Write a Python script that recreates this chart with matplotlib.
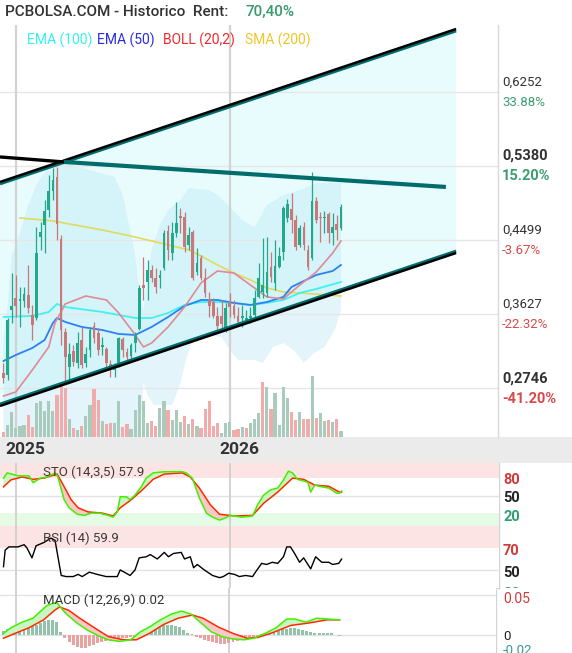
import numpy as np
import matplotlib
matplotlib.use('Agg')
import matplotlib.pyplot as plt
from matplotlib.patches import Polygon, Rectangle
from matplotlib.lines import Line2D
from matplotlib.transforms import Bbox, TransformedBbox

plt.rcParams['font.family'] = ['Roboto', 'DejaVu Sans']

# ---------------- data (weekly candles, index = week number) ----------------
opens = [0.2927,0.2904,0.3673,0.3815,0.3779,0.3779,0.3850,0.3614,0.3578,0.4536,
         0.4678,0.4856,0.5080,0.5246,0.4513,0.3412,0.2998,0.3188,0.3046,0.3318,
         0.3046,0.3200,0.3483,0.3401,0.3235,0.3211,0.3034,0.2963,0.3046,0.3330,
         0.3176,0.3129,0.3282,0.3448,0.3968,0.4004,0.4146,0.4051,0.4051,0.4170,
         0.4607,0.4347,0.4584,0.4785,0.4773,0.4442,0.4595,0.4122,0.4288,0.4051,
         0.3803,0.3767,0.3602,0.3602,0.3436,0.3767,0.3720,0.3602,0.3578,0.3554,
         0.3578,0.3614,0.3827,0.3886,0.3874,0.4181,0.3992,0.4181,0.4359,0.4761,
         0.4868,0.4737,0.4442,0.4655,0.4383,0.4288,0.4962,0.4773,0.4761,0.4808,
         0.4584,0.4690,0.4643]
highs = [0.3046,0.3578,0.4110,0.4087,0.3945,0.3945,0.4205,0.3732,0.4655,0.4714,
         0.4974,0.5270,0.5353,0.5364,0.4560,0.3460,0.3282,0.3259,0.3412,0.3472,
         0.3235,0.3472,0.3531,0.3460,0.3353,0.3235,0.3081,0.3046,0.3353,0.3353,
         0.3223,0.3282,0.3412,0.3968,0.4300,0.4264,0.4205,0.4170,0.4146,0.4619,
         0.4678,0.4714,0.4950,0.4879,0.4832,0.4655,0.4619,0.4406,0.4323,0.4170,
         0.3886,0.3815,0.3708,0.3791,0.3756,0.3874,0.3791,0.3708,0.3732,0.3673,
         0.3708,0.3909,0.4229,0.4524,0.4536,0.4359,0.4501,0.4418,0.4903,0.4986,
         0.5057,0.4797,0.4678,0.4714,0.4442,0.5305,0.5009,0.4832,0.4844,0.4832,
         0.4820,0.4797,0.4927]
lows = [0.2809,0.2845,0.3519,0.3590,0.3472,0.3708,0.3637,0.3318,0.3554,0.4383,
        0.4347,0.4773,0.4974,0.4501,0.3259,0.2809,0.2845,0.3010,0.2987,0.2987,
        0.2998,0.3117,0.3282,0.3140,0.3140,0.2998,0.2880,0.2880,0.2998,0.3117,
        0.3081,0.3105,0.3176,0.3436,0.3791,0.3791,0.4004,0.3874,0.3933,0.4146,
        0.4264,0.4264,0.4536,0.4584,0.4359,0.4383,0.4028,0.4087,0.4028,0.3827,
        0.3590,0.3578,0.3412,0.3460,0.3412,0.3590,0.3578,0.3519,0.3472,0.3531,
        0.3519,0.3590,0.3815,0.3815,0.3827,0.4004,0.3909,0.4170,0.4264,0.4714,
        0.4584,0.4383,0.4418,0.4383,0.4146,0.4264,0.4702,0.4477,0.4584,0.4465,
        0.4442,0.4501,0.4619]
closes = [0.2868,0.3554,0.3720,0.3720,0.3803,0.3862,0.3696,0.3495,0.4347,0.4595,
          0.4844,0.5080,0.5211,0.4690,0.3436,0.3117,0.3152,0.3058,0.3282,0.3022,
          0.3152,0.3436,0.3341,0.3200,0.3259,0.3046,0.2998,0.2998,0.3341,0.3200,
          0.3117,0.3259,0.3377,0.3933,0.3933,0.4146,0.4051,0.3945,0.4087,0.4584,
          0.4383,0.4584,0.4702,0.4761,0.4418,0.4560,0.4051,0.4229,0.4051,0.3874,
          0.3720,0.3602,0.3483,0.3507,0.3696,0.3708,0.3614,0.3531,0.3602,0.3578,
          0.3602,0.3815,0.4051,0.3968,0.4122,0.4063,0.4193,0.4312,0.4879,0.4927,
          0.4737,0.4418,0.4643,0.4442,0.4181,0.4962,0.4737,0.4761,0.4773,0.4584,
          0.4655,0.4619,0.4891]
volume_k = [5,12,25,9,11,12,22,10,34,36,
            26,36,26,42,54,49,18,9,7,11,
            21,32,48,37,16,13,14,14,36,10,
            13,8,27,42,36,14,16,11,29,36,
            27,17,27,15,21,13,18,11,9,28,
            36,11,14,4,14,15,7,8,10,9,
            14,18,24,55,50,28,44,12,50,39,
            25,17,25,18,18,61,19,24,16,17,
            15,18,6]

# moving averages (week index, price)
sma200_x = [4, 12, 24, 32, 40, 45, 48, 52, 56, 60, 64, 68, 72, 82]
sma200_y = [0.4761, 0.4726, 0.4619, 0.4536, 0.4442, 0.4383, 0.4312, 0.4205, 0.4110,
            0.4028, 0.3933, 0.3886, 0.3874, 0.3838]
ema100_x = [0, 7, 11, 13, 15, 24, 32, 36, 40, 44, 48, 52, 56, 60, 64, 68, 72, 76, 82]
ema100_y = [0.3590, 0.3602, 0.3649, 0.3744, 0.3708, 0.3649, 0.3578, 0.3578, 0.3637, 0.3732,
            0.3767, 0.3767, 0.3756, 0.3732, 0.3756, 0.3791, 0.3874, 0.3921, 0.4004]
ema50_x = [0, 3, 7, 10, 12, 13, 15, 19, 24, 28, 32, 36, 40, 44, 48, 52, 56, 60, 64, 68, 70, 76, 80, 82]
ema50_y = [0.3069, 0.3140, 0.3223, 0.3318, 0.3519, 0.3578, 0.3531, 0.3472, 0.3436, 0.3389,
           0.3377, 0.3472, 0.3590, 0.3720, 0.3791, 0.3791, 0.3756, 0.3732, 0.3767, 0.3827,
           0.3945, 0.4087, 0.4134, 0.4205]
boll_x = [0, 3, 7, 11, 12.5, 14, 15, 20, 25, 28, 31.5, 34, 36, 40, 44, 48, 52, 56, 60, 64, 68, 72, 76, 80, 82]
boll_y = [0.2655, 0.2703, 0.2963, 0.3235, 0.3519, 0.3649, 0.3744, 0.3838, 0.3791, 0.3637,
          0.3412, 0.3235, 0.3282, 0.3472, 0.3708, 0.3992, 0.4134, 0.4110, 0.3968, 0.3827,
          0.3803, 0.3968, 0.4122, 0.4347, 0.4489]
boll_up_x = [0, 1, 2, 4, 6, 8, 10, 15, 21, 27, 29, 30.5, 32, 33.2, 34, 35, 36, 38, 40, 43,
             45, 50, 52, 55, 58, 61, 64, 68, 72, 76, 82]
boll_up_y = [0.3318, 0.3732, 0.4323, 0.4584, 0.4915, 0.5151, 0.5305, 0.5412, 0.5329, 0.5246,
             0.5033, 0.4678, 0.4323, 0.3791, 0.3673, 0.4028, 0.4383, 0.4678, 0.4856, 0.4974,
             0.5116, 0.5092, 0.5033, 0.4891, 0.4737, 0.4655, 0.4915, 0.5033, 0.5092, 0.5175, 0.5175]
boll_lo_x = [0, 33, 34, 35, 36.5, 41, 43, 44.5, 46, 50, 53, 55, 57, 61, 63, 65.5, 68, 70.5,
             73, 75.5, 78, 80.5, 82]
boll_lo_y = [0.2000, 0.2000, 0.2809, 0.2667, 0.2549, 0.2549, 0.2809, 0.3117, 0.3318, 0.3377,
             0.3353, 0.3200, 0.3081, 0.3081, 0.3046, 0.3235, 0.3282, 0.3200, 0.3046, 0.3164,
             0.3235, 0.3436, 0.3673]

# trend channel (week index, price)
chan_up_x, chan_up_y = [-0.85, 110.0], [0.5175, 0.6985]
chan_lo_x, chan_lo_y = [-0.85, 110.0], [0.2549, 0.4359]
res_x, res_y = [14.7, 107.5], [0.5424, 0.5128]
old_x, old_y = [-0.85, 14.7], [0.5483, 0.5424]

levels = [0.6252, 0.5380, 0.4499, 0.3627, 0.2746]
level_pct = ['33.88%', '15.20%', '-3.67%', '-22.32%', '-41.20%']
level_bold = [False, True, False, False, True]
year_labels = ['2025', '2026']
year_pos = [3.04, 55.04]

# oscillators
sto_k_x = [0, 0.9, 3.5, 6.2, 7.2, 8.9, 10.6, 12.5, 13.2, 14.7, 15.9, 17.9, 19.6, 21.3, 23.2,
           25.4, 26.6, 27.6, 28.3, 29.8, 30.7, 31.9, 33.4, 34.6, 36.3, 39.0, 41.7, 43.4, 44.3,
           45.8, 47.5, 49.2, 50.7, 52.4, 53.6, 55.0, 57.7, 60.4, 61.6, 63.1, 64.8, 66.5, 67.9,
           69.1, 70.1, 71.3, 73.8, 74.5, 75.5, 77.2, 78.9, 80.8, 81.5, 82.0]
sto_k_y = [80, 89, 84, 84, 72, 80, 82, 89, 82, 43, 29, 18, 16, 20, 20, 16, 13, 22, 48, 48, 43,
           51, 65, 80, 89, 91, 91, 91, 89, 80, 46, 20, 13, 8, 11, 16, 13, 15, 34, 51, 60, 63,
           77, 92, 89, 78, 73, 56, 68, 65, 63, 54, 54, 58]
sto_d_x = [0, 1.8, 4.5, 7.2, 9.8, 13.0, 14.2, 16.4, 18.1, 20.5, 23.9, 26.6, 28.3, 31.0, 33.7,
           36.3, 39.0, 43.4, 45.3, 47.5, 50.2, 52.4, 56.0, 60.4, 63.1, 66.5, 70.1, 72.8, 75.5,
           78.9, 81.5, 82.0]
sto_d_y = [65, 77, 82, 78, 80, 87, 72, 43, 29, 22, 20, 15, 29, 43, 60, 78, 87, 89, 82, 63, 34,
           18, 15, 16, 37, 56, 80, 78, 68, 66, 56, 56]
rsi_x = [0, 0.4, 1.3, 3.5, 5.0, 5.7, 6.9, 7.9, 9.8, 11.5, 12.5, 13.2, 14.0, 15.2, 16.9, 18.1,
         19.1, 20.8, 22.7, 24.9, 27.6, 28.3, 29.3, 30.7, 31.9, 32.9, 34.6, 35.6, 37.3, 39.0,
         40.0, 41.2, 43.1, 43.9, 45.3, 46.1, 47.0, 48.7, 50.7, 52.4, 53.3, 54.6, 56.0, 57.2,
         58.7, 60.4, 61.1, 62.6, 63.8, 65.2, 66.5, 67.9, 68.7, 69.6, 70.6, 71.8, 72.8, 74.5,
         75.7, 77.2, 78.9, 79.8, 81.3, 82.0]
rsi_y = [53, 68, 71, 71, 73, 70, 61, 72, 75, 79, 77, 62, 45, 44, 44, 46, 44, 48, 46, 44, 44,
         50, 48, 45, 50, 61, 62, 64, 60, 66, 62, 65, 66, 60, 62, 52, 55, 50, 45, 43, 44, 47,
         46, 44, 45, 44, 48, 56, 55, 57, 56, 62, 71, 71, 65, 57, 61, 51, 62, 57, 57, 55, 56, 59.9]
macd_x = [0, 1.8, 4.5, 7.2, 8.9, 10.6, 13.0, 13.7, 15.2, 17.9, 20.5, 23.2, 25.6, 28.3, 31.0,
          33.4, 35.6, 38.3, 40.9, 43.4, 45.8, 48.0, 50.7, 53.3, 56.0, 58.7, 61.1, 63.8, 66.5,
          69.1, 71.1, 73.8, 76.4, 78.9, 82.0]
macd_y = [0.002, 0.009, 0.016, 0.021, 0.029, 0.037, 0.041, 0.036, 0.027, 0.015, 0.006, -0.001,
          -0.006, -0.008, -0.006, 0.004, 0.010, 0.019, 0.026, 0.030, 0.026, 0.016, 0.004, -0.002,
          -0.005, -0.006, -0.004, 0.002, 0.009, 0.020, 0.020, 0.016, 0.021, 0.020, 0.019]
signal_x = [0, 2.8, 6.2, 9.8, 12.5, 13.7, 15.9, 18.6, 22.2, 25.6, 29.3, 32.4, 35.6, 39.0, 42.6,
            46.1, 48.7, 52.4, 56.0, 59.4, 62.1, 65.7, 70.1, 74.5, 78.9, 82.0]
signal_y = [-0.004, 0.002, 0.009, 0.019, 0.031, 0.035, 0.031, 0.021, 0.009, -0.002, -0.006,
            -0.006, 0.002, 0.013, 0.021, 0.025, 0.021, 0.010, 0.002, -0.004, -0.003, 0.003,
            0.012, 0.015, 0.019, 0.019]
macd_hist = [0.005,0.007,0.009,0.011,0.012,0.013,0.012,0.011,0.013,0.015,
             0.017,0.019,0.019,0.016,0.004,-0.004,-0.009,-0.013,-0.015,-0.016,
             -0.016,-0.014,-0.012,-0.010,-0.009,-0.008,-0.007,-0.006,-0.005,-0.004,
             -0.004,-0.003,-0.002,0.003,0.005,0.007,0.009,0.010,0.012,0.013,
             0.012,0.012,0.011,0.010,0.006,0.003,0.001,-0.002,-0.004,-0.006,
             -0.008,-0.009,-0.010,-0.011,-0.011,-0.010,-0.009,-0.008,-0.006,-0.005,
             -0.003,-0.002,-0.001,0.001,0.002,0.003,0.004,0.005,0.007,0.008,
             0.009,0.009,0.008,0.006,0.005,0.004,0.003,0.003,0.003,0.003,
             0.002,0.000,-0.001]

# ---------------- figure ----------------
W, H = 572, 653
fig = plt.figure(figsize=(W / 100, H / 100), dpi=100)
fig.patch.set_facecolor('white')
XL = (-0.85, 120.17)


def add_ax(x0, y0, x1, y1, z=1):
    a = fig.add_axes([x0 / W, 1 - y1 / H, (x1 - x0) / W, (y1 - y0) / H])
    a.set_zorder(z)
    a.set_xlim(*XL)
    for s in a.spines.values():
        s.set_visible(False)
    a.set_xticks([])
    a.set_yticks([])
    return a


GREEN, RED = '#22a88a', '#c87878'
PYL = (0.2170, 0.7044)

# bottom layer: fills and grid
ax_fill = add_ax(0, 25, 498, 437, z=1)
ax_fill.set_ylim(*PYL)
bx = list(boll_up_x) + list(boll_lo_x[::-1])
by = list(boll_up_y) + list(boll_lo_y[::-1])
ax_fill.add_patch(Polygon(np.column_stack([bx, by]), closed=True, facecolor='#e3f4fa',
                          edgecolor='none', zorder=1))
cx = [chan_up_x[0], chan_up_x[1], chan_lo_x[1], chan_lo_x[0]]
cy = [chan_up_y[0], chan_up_y[1], chan_lo_y[1], chan_lo_y[0]]
ax_fill.add_patch(Polygon(np.column_stack([cx, cy]), closed=True, facecolor='#a7f5f7',
                          alpha=0.24, edgecolor='none', zorder=2))
for lv in levels:
    ax_fill.axhline(lv, color='#e6e6e6', lw=1.0, zorder=3)
for xp in year_pos:
    ax_fill.axvline(xp, color='#d2d2d2', lw=1.6, zorder=3)

# middle layer: volume
ax_vol = add_ax(0, 25, 498, 437, z=2)
ax_vol.patch.set_visible(False)
ax_vol.set_ylim(0, 410)
idx = np.arange(len(closes))
vcol = []
for i in range(len(closes)):
    up = closes[i] >= (closes[i - 1] if i > 0 else opens[i])
    vcol.append('#a8cbbb' if up else '#f2abab')
ax_vol.bar(idx, volume_k, width=0.78, color=vcol, zorder=2)

# top layer: candles, lines, channel
ax = add_ax(0, 25, 498, 437, z=3)
ax.patch.set_visible(False)
ax.set_ylim(*PYL)
px = (PYL[1] - PYL[0]) / 412.0
ax.plot(chan_up_x, np.array(chan_up_y) - px, color='#006d6d', lw=2.0, zorder=6,
        solid_capstyle='butt')
ax.plot(chan_up_x, np.array(chan_up_y) + px, color='black', lw=1.8, zorder=6,
        solid_capstyle='butt')
ax.plot(chan_lo_x, np.array(chan_lo_y) + px, color='#006d6d', lw=2.0, zorder=6,
        solid_capstyle='butt')
ax.plot(chan_lo_x, np.array(chan_lo_y) - px, color='black', lw=1.8, zorder=6,
        solid_capstyle='butt')
ax.plot(res_x, res_y, color='#006d6d', lw=3.0, zorder=6, solid_capstyle='butt')
ax.plot(old_x, old_y, color='black', lw=2.4, zorder=6, solid_capstyle='butt')

ax.plot(sma200_x, sma200_y, color='#e2da5c', lw=1.2, zorder=4)
ax.plot(ema100_x, ema100_y, color='#3ff2f2', lw=1.3, zorder=4)
ax.plot(ema50_x, ema50_y, color='#2f7ff5', lw=1.3, zorder=4)
ax.plot(boll_x, boll_y, color='#e08a94', lw=1.2, zorder=4)

for i in range(len(closes)):
    o, h, l, c = opens[i], highs[i], lows[i], closes[i]
    col = GREEN if c >= o else RED
    ax.vlines(i, l, h, color=col, lw=0.9, zorder=5)
    b0 = min(o, c)
    bh = max(abs(c - o), 0.0009)
    ax.add_patch(Rectangle((i - 0.33, b0), 0.66, bh, facecolor=col, edgecolor='none',
                           zorder=5))

# right border of main panel
fig.add_artist(Line2D([498 / W, 498 / W], [1 - 25 / H, 1 - 437 / H], color='#d8d8d8', lw=1))

# title and legend
fig.text(5 / W, 1 - 12 / H, 'PCBOLSA.COM - Historico  Rent:', fontsize=11,
         fontweight='medium', color='#333333', va='center', ha='left')
fig.text(246 / W, 1 - 12 / H, '70,40%', fontsize=11, fontweight='medium',
         color='#3a9a6c', va='center', ha='left')
leg = [('EMA (100)', '#35f0f0', 27), ('EMA (50)', '#2a2ae8', 97),
       ('BOLL (20,2)', '#ee2a2a', 163), ('SMA (200)', '#f2c525', 245)]
for t, c_, xx in leg:
    fig.text(xx / W, 1 - 40 / H, t, fontsize=10, color=c_, va='center', ha='left')

# right price labels
for lv, pc, bold in zip(levels, level_pct, level_bold):
    ypix = 25 + (PYL[1] - lv) / (PYL[1] - PYL[0]) * 412
    pcol = '#3a9e72' if not pc.startswith('-') else '#d84a4a'
    fw = 'bold' if bold else 'normal'
    fs = 10.5 if bold else 9.5
    fig.text(502 / W, 1 - (ypix - 10) / H, ('%.4f' % lv).replace('.', ','), fontsize=fs,
             fontweight=fw, color='#333333', va='center', ha='left')
    fig.text(502 / W, 1 - (ypix + 10.5) / H, pc, fontsize=fs, fontweight=fw, color=pcol,
             va='center', ha='left')

# x axis band
fig.add_artist(Rectangle((0, 1 - 463 / H), 1, 26 / H, transform=fig.transFigure,
                         facecolor='#ebebeb', edgecolor='none', zorder=0))
for lab, xp in zip(year_labels, year_pos):
    xpix = 3.5 + xp * 4.115
    fig.text((xpix - 11) / W, 1 - 450 / H, lab, fontsize=12.5, fontweight='bold',
             color='#333333', va='center', ha='left')


def pair_fill(a, x1, y1, x2, y2):
    xs = np.union1d(x1, x2)
    p = np.interp(xs, x1, y1)
    q = np.interp(xs, x2, y2)
    a.fill_between(xs, p, q, where=p >= q, interpolate=True, color='#c8f5c2', lw=0, zorder=2)
    a.fill_between(xs, p, q, where=p < q, interpolate=True, color='#f8c9c9', lw=0, zorder=2)


# STO panel
ax_s = add_ax(0, 463, 499, 526, z=4)
ax_s.set_ylim(-2.2, 106)
ax_s.axhspan(80, 106, color='#fde4e4', lw=0, zorder=0)
ax_s.axhspan(-2.2, 20, color='#e6fbe6', lw=0, zorder=0)
ax_s.axhline(50, color='#e2e2e2', lw=1, zorder=1)
for xp in year_pos:
    ax_s.axvline(xp, color='#d2d2d2', lw=1.4, zorder=1)
pair_fill(ax_s, sto_k_x, sto_k_y, sto_d_x, sto_d_y)
ax_s.plot(sto_d_x, sto_d_y, color='#ff2a00', lw=1.1, zorder=3)
ax_s.plot(sto_k_x, sto_k_y, color='#44ee00', lw=1.1, zorder=3)
ax_s.text(43 / 499, 0.85, 'STO (14,3,5) 57.9', transform=ax_s.transAxes, fontsize=9.5,
          color='#403838', va='center', ha='left', zorder=5)

# RSI panel
ax_r = add_ax(0, 526, 499, 588, z=4)
ax_r.set_ylim(33.6, 90)
ax_r.axhspan(70, 90, color='#fde4e4', lw=0, zorder=0)
ax_r.axhline(50, color='#e2e2e2', lw=1, zorder=1)
for xp in year_pos:
    ax_r.axvline(xp, color='#d2d2d2', lw=1.4, zorder=1)
ax_r.plot(rsi_x, rsi_y, color='black', lw=1.0, zorder=3)
ax_r.text(43 / 499, 0.8, 'RSI (14) 59.9', transform=ax_r.transAxes, fontsize=9.5,
          color='#403838', va='center', ha='left', zorder=5)

# MACD panel
ax_m = add_ax(0, 588, 496, 653, z=4)
ax_m.set_ylim(-0.0225, 0.0588)
ax_m.axhline(0, color='#e2e2e2', lw=1, zorder=1)
ax_m.axhline(0.05, color='#e2e2e2', lw=1, zorder=1)
for xp in year_pos:
    ax_m.axvline(xp, color='#d2d2d2', lw=1.4, zorder=1)
hcol = ['#93c2ab' if v >= 0 else '#e9a2a2' for v in macd_hist]
ax_m.bar(idx, macd_hist, width=0.72, color=hcol, zorder=2)
pair_fill(ax_m, macd_x, macd_y, signal_x, signal_y)
ax_m.plot(signal_x, signal_y, color='#ff2a00', lw=1.1, zorder=3)
ax_m.plot(macd_x, macd_y, color='#44ee00', lw=1.1, zorder=3)
ax_m.text(43 / 496, 0.81, 'MACD (12,26,9) 0.02', transform=ax_m.transAxes, fontsize=9.5,
          color='#333333', va='center', ha='left', zorder=5)

# panel separators
for yy in (526, 588):
    fig.add_artist(Line2D([0, 499 / W], [1 - yy / H, 1 - yy / H], color='#d4d4d4', lw=1))
fig.add_artist(Line2D([499 / W, 499 / W], [1 - 463 / H, 1 - 588 / H], color='#d4d4d4', lw=1))
fig.add_artist(Line2D([496 / W, 496 / W], [1 - 590 / H, 0], color='#d4d4d4', lw=1))

# right oscillator labels
osc = [('80', 480, '#d03a3a', 'bold', 10.5), ('50', 498, '#222222', 'bold', 10.5),
       ('20', 517, '#2f9e6f', 'bold', 10.5), ('70', 551, '#d03a3a', 'bold', 10.5),
       ('50', 573, '#222222', 'bold', 10.5), ('0.05', 599, '#d03a3a', 'normal', 10),
       ('0', 637, '#222222', 'normal', 9.5), ('-0.02', 651, '#2f9e8f', 'normal', 9.5)]
for t, yy, c_, fw, fs in osc:
    fig.text(503 / W, 1 - yy / H, t, fontsize=fs, fontweight=fw, color=c_,
             va='center', ha='left')
t30 = fig.text(503 / W, 1 - 594 / H, '30', fontsize=10.5, fontweight='bold',
               color='#2f9e6f', va='center', ha='left')
t30.set_clip_box(TransformedBbox(Bbox([[0, 1 - 588 / H], [1, 1 - 526 / H]]), fig.transFigure))
t30.set_clip_on(True)

fig.savefig('out.png', dpi=100, facecolor='white')
